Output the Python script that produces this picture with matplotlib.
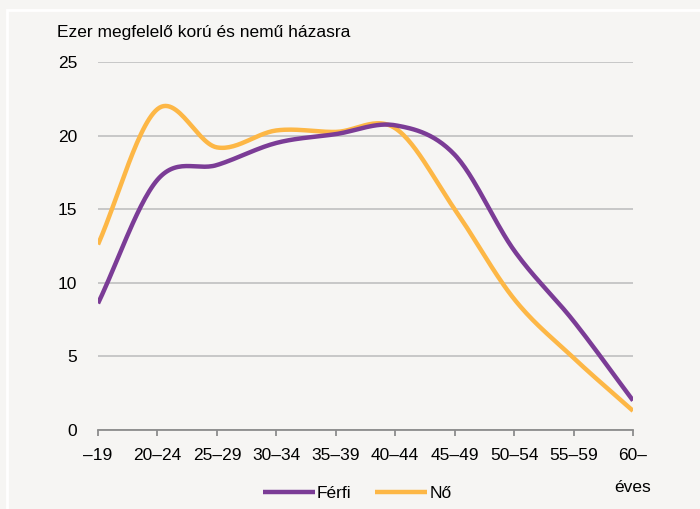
import numpy as np
import matplotlib.pyplot as plt
import matplotlib.patches as mpatches

plt.rcParams['font.family'] = ['Liberation Sans', 'DejaVu Sans']

categories = ['–19', '20–24', '25–29', '30–34', '35–39', '40–44', '45–49', '50–54', '55–59', '60–']
ferfi = [8.6, 17.0, 18.0, 19.5, 20.1, 20.7, 18.7, 12.2, 7.4, 2.0]
no = [12.6, 21.8, 19.2, 20.35, 20.25, 20.5, 15.0, 8.9, 4.9, 1.3]

bg = '#f6f5f3'


def smooth(xs, ys, n=30):
    # catmull-rom style smoothing, like a spreadsheet "smoothed line"
    xs = np.asarray(xs, float)
    ys = np.asarray(ys, float)
    px = np.concatenate([[2 * xs[0] - xs[1]], xs, [2 * xs[-1] - xs[-2]]])
    py = np.concatenate([[2 * ys[0] - ys[1]], ys, [2 * ys[-1] - ys[-2]]])
    ox, oy = [], []
    for i in range(1, len(px) - 2):
        p0x, p1x, p2x, p3x = px[i - 1:i + 3]
        p0y, p1y, p2y, p3y = py[i - 1:i + 3]
        b1x, b1y = p1x + (p2x - p0x) / 6, p1y + (p2y - p0y) / 6
        b2x, b2y = p2x - (p3x - p1x) / 6, p2y - (p3y - p1y) / 6
        t = np.linspace(0, 1, n)
        ox.append((1 - t) ** 3 * p1x + 3 * (1 - t) ** 2 * t * b1x + 3 * (1 - t) * t ** 2 * b2x + t ** 3 * p2x)
        oy.append((1 - t) ** 3 * p1y + 3 * (1 - t) ** 2 * t * b1y + 3 * (1 - t) * t ** 2 * b2y + t ** 3 * p2y)
    return np.concatenate(ox), np.concatenate(oy)


fig = plt.figure(figsize=(7, 5.09), dpi=100, facecolor=bg)
# white frame line
fig.patches.append(mpatches.Rectangle((7 / 700, -0.1), 1.2, 1 - 10 / 509 + 0.1, transform=fig.transFigure,
                                      fill=False, edgecolor='white', linewidth=2, zorder=0))

ax = fig.add_axes([98 / 700, 1 - 430 / 509, 535 / 700, 368 / 509])
ax.set_facecolor(bg)

x = np.arange(len(categories))
sx, sy = smooth(x, ferfi)
ax.plot(sx, sy, color='#7b3c96', lw=3.2, solid_capstyle='butt', label='Férfi', zorder=3)
sx, sy = smooth(x, no)
ax.plot(sx, sy, color='#fdb746', lw=3.2, solid_capstyle='butt', label='Nő', zorder=2)

ax.set_xlim(0, len(categories) - 1)
ax.set_ylim(0, 25)
ax.set_yticks([0, 5, 10, 15, 20, 25])
ax.set_xticks(x)
ax.set_xticklabels(categories)
ax.yaxis.grid(True, color='#c4c4c4', lw=1.3)
ax.set_axisbelow(True)
for s in ['top', 'right', 'left']:
    ax.spines[s].set_visible(False)
ax.spines['bottom'].set_color('#8c8c8c')
ax.spines['bottom'].set_linewidth(1.3)
ax.tick_params(axis='y', length=0, pad=15, labelsize=12.5)
ax.tick_params(axis='x', length=4, width=1.3, color='#8c8c8c', pad=9, labelsize=12.5)

fig.text(57 / 700, 1 - 32 / 509, 'Ezer megfelelő korú és nemű házasra', fontsize=12.5, va='center', ha='left')
fig.text(633 / 700, 1 - 487 / 509, 'éves', fontsize=12.5, va='center', ha='center')

fig.legend(loc='center', bbox_to_anchor=(357 / 700, 1 - 493 / 509), ncol=2, frameon=False, fontsize=12.5,
           handlelength=3.0, handletextpad=0.1, columnspacing=1.4)

fig.savefig('out.png', dpi=100, facecolor=bg)
